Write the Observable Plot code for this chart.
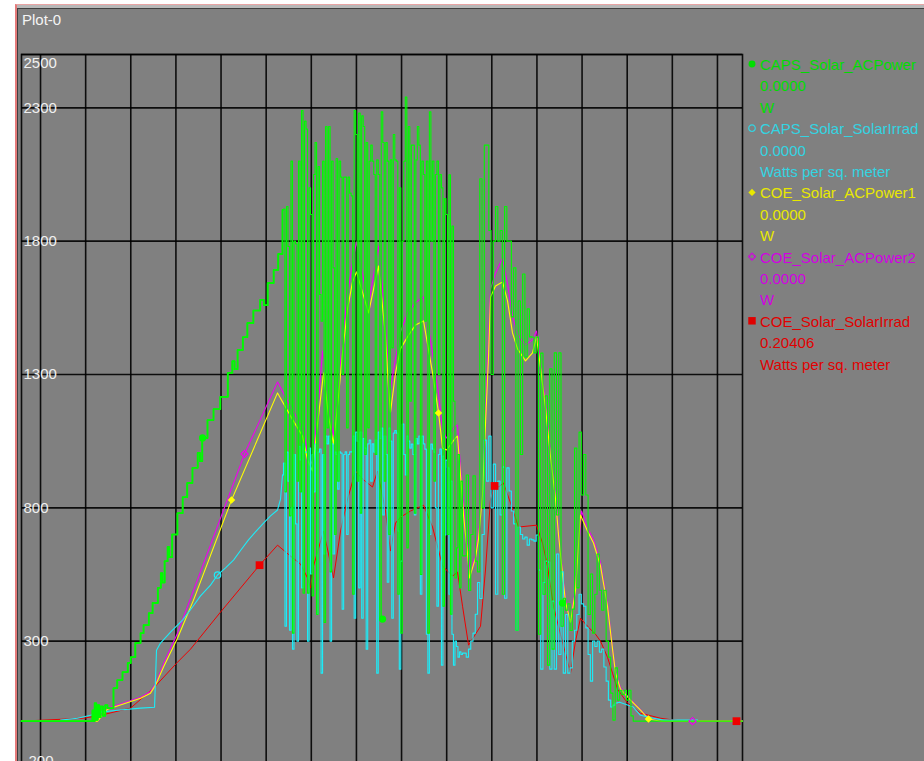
<!DOCTYPE html>
<html>
<head>
<meta charset="utf-8">
<script src="https://cdn.jsdelivr.net/npm/d3@7"></script>
<script src="https://cdn.jsdelivr.net/npm/@observablehq/plot@0.6"></script>
<style>
html, body { margin: 0; padding: 0; background: #ffffff; overflow: hidden; width: 924px; height: 761px; }
#outer { position: absolute; left: 15px; top: 4px; width: 909px; height: 757px; border-left: 2px solid #e47a7a; border-top: 1px solid #e8a4a4; box-sizing: border-box; background: #b8b8b8; }
#inner { position: absolute; left: 0px; top: 3px; right: 0; bottom: 0; background: #808080; border-left: 1px solid #404040; border-top: 1px solid #404040; }
#chart { position: absolute; left: 0; top: 0; }
#overlay { position: absolute; left: 0; top: 0; pointer-events: none; }
</style>
</head>
<body>
<div id="outer"><div id="inner"></div></div>
<div id="chart"></div>
<svg id="overlay" width="924" height="761"></svg>
<script>
// ---------- data (time in minutes since midnight, values in series units) ----------
const seriesNames = ["CAPS_Solar_ACPower", "CAPS_Solar_SolarIrrad", "COE_Solar_ACPower1", "COE_Solar_ACPower2", "COE_Solar_SolarIrrad"];
const seriesReadouts = ["0.0000", "0.0000", "0.0000", "0.0000", "0.20406"];
const seriesUnits = ["W", "Watts per sq. meter", "W", "W", "Watts per sq. meter"];
const yTickValues = [2500, 2300, 1800, 1300, 800, 300, -200];
const xGridMinutes = [300, 360, 420, 480, 540, 600, 660, 720, 780, 840, 900, 960, 1020, 1080, 1140, 1200];
const xStart = 274.7, xEnd = 1233.3;

// CAPS_Solar_ACPower (green): staircase ramp, 2-minute samples, 3-minute samples, tail
const capsPowerRamp = [[274.7,0],[369,40],[370.5,0],[372,67],[374,5],[376,60],[378,15],[380,55],[383,20],[386,60],[389,49],
  [397,124],[402,154],[409,184],[416,218],[420,240],[426,293],[433,330],[437,360],[444,405],[449,443],[456,500],[460,555],
  [462,520],[465,600],[469,653],[471,615],[475,700],[482,780],[489,840],[495,893],[502,950],[509,1006],[512,975],[515,1062],
  [522,1129],[530,1170],[539,1216],[549,1306],[555,1350],[558,1320],[562,1392],[569,1440],[575,1493],[583,1540],[592,1580],
  [597,1560],[602,1643],[610,1692],[616,1752],[621.7,1917]];
const capsPowerFastStart = 623, capsPowerFastStep = 2;
const capsPowerFast = [
  1920,860,1930,1780,770,2100,330,1800,1790,900,2100,860,2290,480,2250,
  2220,480,2000,1900,470,2050,2170,400,2080,1600,1500,2100,370,2230,1100,
  2230,560,2100,1700,700,2110,900,2100,2040,1300,2040,2040,1100,2040,1980,
  1970,476,2290,2200,900,2280,780,2270,2230,1000,2170,1100,2100,2160,2100,
  2050,1000,2105,2050,383,2285,2170,900,2170,2100,700,2105,1400,2200,2105,
  2100,476,2000,330,1800,2100,2340,650,2230,1200,2160,2160,780,2105,2230,
  2160,550,2100,2050,1500,2100,330,2285,1800,2100,900,2050,2100,1300,2050,
  2000,431,1960,1900,700,2049,401,1857,1200,537,650,1000,500,900,620];
const capsPowerSlowStart = 863, capsPowerSlowStep = 3;
const capsPowerSlow = [
  620,923,490,700,920,600,560,2034,800,2160,
  2160,1840,1300,1800,1930,1800,1840,476,1930,1800,
  1800,1516,1700,341,1576,1000,1677,1366,1546,1441,
  1440,1381,1440,326,1380,476,1220,210,1321,270,
  1381,773,1381,356,461,416,440,340,420,1024,
  500,1084,848,1000,848,400,552,330,476,627,
  491,416,491,300,240,105,4,200,79,116,
  100,116,79,116,20,0];
const capsPowerTail = [[1091,0],[1233.3,0]];
const capsPowerMarkers = [[515.4,1062],[754.7,383],[994,443]];

// CAPS_Solar_SolarIrrad (cyan)
const capsIrradRamp = [[326.6,4],[349.2,11],[366.5,22],[379.8,34],[402.4,41],[433,49],[451.6,52],[454.2,266],[459.5,293],
  [472.8,334],[488.8,379],[502.1,428],[512.7,470],[526,510],[535.3,548],[546,575],[556.6,604],[565.9,640],[576.5,680],
  [585.8,710],[596.5,743],[605.8,770],[615.1,792],[619.1,833],[621.7,923]];
const capsIrradFastStart = 623, capsIrradFastStep = 2;
const capsIrradFast = [
  968,356,1009,900,341,800,270,1000,740,300,1030,980,500,1040,1009,
  1009,300,1024,552,1000,860,1039,401,1009,1020,180,1000,627,1069,1040,
  1069,300,1040,627,1009,1000,870,1010,1005,420,1000,1010,700,1000,1010,
  1010,1069,386,1084,1050,500,1084,386,1060,1024,270,1040,1054,900,1040,
  1009,1054,180,1084,1060,1099,773,1069,1000,521,1099,1050,386,1080,1090,
  1080,713,195,600,1114,1000,923,1069,1050,1024,1039,1000,773,1060,1040,
  1069,476,1069,1040,1020,326,180,700,1039,1020,1009,800,431,1000,1020,
  210,994,698,979,950,476,900,326,210,300,280,240,260,250,255];
const capsIrradSlowStart = 863, capsIrradSlowStep = 3;
const capsIrradSlow = [
  255,240,270,300,330,401,520,460,700,1054,
  900,1069,800,964,476,900,773,953,461,950,
  863,788,740,341,728,700,683,690,660,683,
  680,675,698,567,195,520,600,597,195,450,
  195,627,250,560,180,400,180,200,300,341,
  400,476,440,431,350,250,150,300,280,300,
  259,270,203,150,79,53,60,68,70,71];
const capsIrradTail = [[1088,53],[1097.7,22],[1115,11],[1128,4],[1173.5,4]];
const capsIrradMarkers = [[535.3,548]];

// COE_Solar_ACPower1 (yellow)
const coePower1 = [[274.7,0],[375.8,0],[389.1,45],[397.1,52],[433,86],[446.2,105],[452.9,135],[463.5,203],[482.1,311],
  [503.4,454],[553.9,829],[615.1,1231],[632.4,1144],[648.3,1069],[655,980],[661.6,938],[668.3,1114],[676.3,1306],
  [682.9,1144],[689.5,1039],[696.2,1219],[701.5,1381],[708.2,1546],[714.8,1647],[720.1,1685],[736.1,1531],[749.4,1707],
  [758.7,1441],[762.7,1249],[765.3,1159],[772,1306],[778.6,1396],[787.9,1441],[798.6,1486],[809.2,1501],[821.2,1306],
  [829.1,1159],[834.5,1024],[839.8,1017],[851.7,1062],[854.4,1069],[858.4,923],[862.4,773],[867.7,627],[870.4,537],
  [878.3,612],[882.3,683],[887.6,848],[891.6,1114],[895.6,1366],[898.3,1591],[904.9,1632],[914.2,1647],[920.9,1576],
  [927.5,1456],[934.2,1396],[944.8,1351],[954.1,1381],[959.4,1441],[965,1321],[971.4,1174],[978,994],[984.7,833],
  [988.7,698],[994,552],[998,446],[1004.6,371],[1011.3,491],[1017.9,773],[1027.2,713],[1035.2,668],[1044.5,582],
  [1053.8,431],[1060.5,270],[1064.5,180],[1071.1,120],[1084.4,79],[1097.7,41],[1108.3,8],[1124.3,0],[1233.3,0]];
const coePower1Markers = [[553.9,829],[829.1,1156],[1108.3,8]];

// COE_Solar_ACPower2 (magenta)
const coePower2 = [[274.7,0],[373,0],[389,48],[397,56],[433,90],[446,110],[453,140],[463.5,215],[482.1,330],[503.4,490],
  [571.2,1002],[615.1,1272],[632.4,1180],[648.3,1100],[655,1010],[661.6,960],[668.3,1150],[674.9,1388],[682.9,1180],
  [689.5,1070],[696.2,1260],[701.5,1430],[708.2,1600],[714.8,1720],[720.1,1797],[736.1,1560],[749.4,1782],[758.7,1500],
  [762.7,1300],[765.3,1249],[772,1360],[778.6,1460],[787.9,1530],[798.6,1570],[809.2,1591],[821.2,1380],[829.1,1230],
  [834.5,1090],[839.8,1062],[851.7,1107],[854.4,1110],[858.4,950],[862.4,800],[867.7,640],[871.7,552],[878.3,630],
  [882.3,700],[887.6,870],[891.6,1150],[895.6,1420],[898.3,1620],[904.9,1680],[914.2,1737],[920.9,1640],[927.5,1520],
  [934.2,1450],[944.8,1411],[954.1,1430],[959.4,1463],[965,1340],[971.4,1190],[978,1010],[984.7,845],[988.7,710],
  [994,560],[998,455],[1004.6,380],[1011.3,500],[1019.3,788],[1027.2,725],[1035.2,680],[1044.5,595],[1053.8,440],
  [1060.5,275],[1064.5,185],[1071.1,125],[1084.4,82],[1097.7,43],[1108.3,10],[1124.3,0],[1233.3,0]];
const coePower2Markers = [[571.2,1002],[1166.8,0]];

// COE_Solar_SolarIrrad (red)
const coeIrrad = [[274.7,0],[357.2,11],[379.8,22],[419.7,49],[450.2,124],[482.1,221],[499.4,270],[539.3,409],[591.2,585],
  [615.1,660],[632.4,619],[645.7,589],[655,537],[659,499],[663,582],[676.3,713],[682.9,627],[689.5,537],[698.9,713],
  [708.2,833],[718.8,938],[728.1,908],[741.4,878],[748,938],[758.7,788],[765.3,638],[772,743],[778.6,765],[791.9,788],
  [809.2,810],[821.2,728],[834.5,582],[847.8,544],[854.4,559],[861.1,431],[869.1,285],[878.3,326],[885,356],[891.6,567],
  [898.3,833],[904.9,893],[908.9,878],[915.6,893],[924.9,818],[935.5,728],[959.4,735],[967.4,668],[974,582],[982,431],
  [991.3,326],[1000.6,225],[1004.6,180],[1011.3,300],[1017.9,386],[1027.2,356],[1037.9,326],[1044.5,300],[1053.8,240],
  [1060.5,180],[1067.1,120],[1080.4,68],[1097.7,30],[1124.3,11],[1141.6,4],[1154.9,0],[1233.3,0]];
const coeIrradMarkers = [[591.2,585],[903.6,882],[1225.3,0]];

// ---------- build ----------
const colors = ["#00fa00", "#1cecf8", "#ffff00", "#ee00ee", "#f00000"];
const legendColors = ["#00dd00", "#33d4e2", "#e8e800", "#d200e2", "#e00000"];
const font = "'Liberation Sans', Arial, sans-serif";

const sampled = (vals, start, step) => vals.map((v, i) => [start + step * i, v]);
const capsPowerSeries = capsPowerRamp
  .concat(sampled(capsPowerFast, capsPowerFastStart, capsPowerFastStep))
  .concat(sampled(capsPowerSlow, capsPowerSlowStart, capsPowerSlowStep))
  .concat(capsPowerTail);
const capsIrradSampled = [capsIrradRamp[capsIrradRamp.length - 1]]
  .concat(sampled(capsIrradFast, capsIrradFastStart, capsIrradFastStep))
  .concat(sampled(capsIrradSlow, capsIrradSlowStart, capsIrradSlowStep));
const capsIrradTailLine = [capsIrradSampled[capsIrradSampled.length - 1]].concat(capsIrradTail);

const X = d => d[0], Y = d => d[1];
const yMid = yTickValues.filter(v => v !== 2500 && v !== -200);

const chart = Plot.plot({
  width: 924,
  height: 780,
  marginLeft: 21,
  marginRight: 182,
  marginTop: 54,
  marginBottom: 6,
  x: {domain: [xStart, xEnd], axis: null},
  y: {domain: [-200, 2500], axis: null},
  style: {background: "transparent", overflow: "visible"},
  marks: [
    Plot.gridX(xGridMinutes, {stroke: "#000", strokeOpacity: 0.9, strokeWidth: 1.6}),
    Plot.gridY(yTickValues, {stroke: "#000", strokeOpacity: 0.9, strokeWidth: 1.6}),
    Plot.frame({stroke: "#000", strokeOpacity: 0.9, strokeWidth: 1.6}),
    Plot.line(coeIrrad, {x: X, y: Y, stroke: colors[4], strokeWidth: 1}),
    Plot.line(coePower2, {x: X, y: Y, stroke: colors[3], strokeWidth: 1.1}),
    Plot.line(coePower1, {x: X, y: Y, stroke: colors[2], strokeWidth: 1.1}),
    Plot.line(capsIrradRamp, {x: X, y: Y, stroke: colors[1], strokeWidth: 1.1}),
    Plot.line(capsIrradSampled, {x: X, y: Y, stroke: colors[1], strokeWidth: 1.1, curve: "step-after"}),
    Plot.line(capsIrradTailLine, {x: X, y: Y, stroke: colors[1], strokeWidth: 1.1}),
    Plot.line(capsPowerRamp, {x: X, y: Y, stroke: colors[0], strokeWidth: 1.9, curve: "step-after"}),
    Plot.line(capsPowerSeries, {x: X, y: Y, stroke: colors[0], strokeWidth: 1.1, curve: "step-after"}),
    Plot.dot(coeIrradMarkers, {x: X, y: Y, symbol: "square", r: 4.4, fill: colors[4]}),
    Plot.dot(coePower2Markers, {x: X, y: Y, symbol: "diamond2", r: 3.2, stroke: colors[3], fill: "none", strokeWidth: 1.2}),
    Plot.dot(coePower1Markers, {x: X, y: Y, symbol: "diamond2", r: 3.4, fill: colors[2]}),
    Plot.dot(capsIrradMarkers, {x: X, y: Y, symbol: "circle", r: 3.2, stroke: colors[1], fill: "none", strokeWidth: 1.2}),
    Plot.dot(capsPowerMarkers, {x: X, y: Y, symbol: "circle", r: 3.6, fill: colors[0]}),
    Plot.text(yMid, {frameAnchor: "left", y: d => d, text: d => String(d), textAnchor: "start", dx: 2, fill: "#f0f0f0", fontSize: 15, fontFamily: font}),
    Plot.text([2500], {frameAnchor: "left", y: d => d, text: d => String(d), textAnchor: "start", dx: 2, dy: 8.5, fill: "#f0f0f0", fontSize: 15, fontFamily: font}),
    Plot.text([-200], {frameAnchor: "left", y: d => d, text: d => String(d), textAnchor: "start", dx: 2, dy: -13, fill: "#f0f0f0", fontSize: 15, fontFamily: font})
  ]
});
document.getElementById("chart").appendChild(chart);

// ---------- title + legend ----------
const ov = d3.select("#overlay");
ov.append("text").attr("x", 22).attr("y", 25).attr("fill", "#f4f4f4")
  .style("font-family", font).style("font-size", "15px").text("Plot-0");

const legendSymbols = [
  {type: d3.symbolCircle, size: 38, filled: true},
  {type: d3.symbolCircle, size: 34, filled: false},
  {type: d3.symbolDiamond2, size: 34, filled: true},
  {type: d3.symbolDiamond2, size: 30, filled: false},
  {type: d3.symbolSquare, size: 56, filled: true}
];
const lineGap = 21.4;
seriesNames.forEach((name, k) => {
  const base = 70 + lineGap * 3 * k;
  const sym = legendSymbols[k];
  ov.append("path")
    .attr("d", d3.symbol(sym.type, sym.size)())
    .attr("transform", `translate(752,${base - 6})`)
    .attr("fill", sym.filled ? legendColors[k] : "none")
    .attr("stroke", sym.filled ? "none" : legendColors[k])
    .attr("stroke-width", 1.2);
  [name, seriesReadouts[k], seriesUnits[k]].forEach((t, j) => {
    ov.append("text").attr("x", 760).attr("y", base + lineGap * j)
      .attr("fill", legendColors[k]).style("font-family", font).style("font-size", "15px").text(t);
  });
});
</script>
</body>
</html>
